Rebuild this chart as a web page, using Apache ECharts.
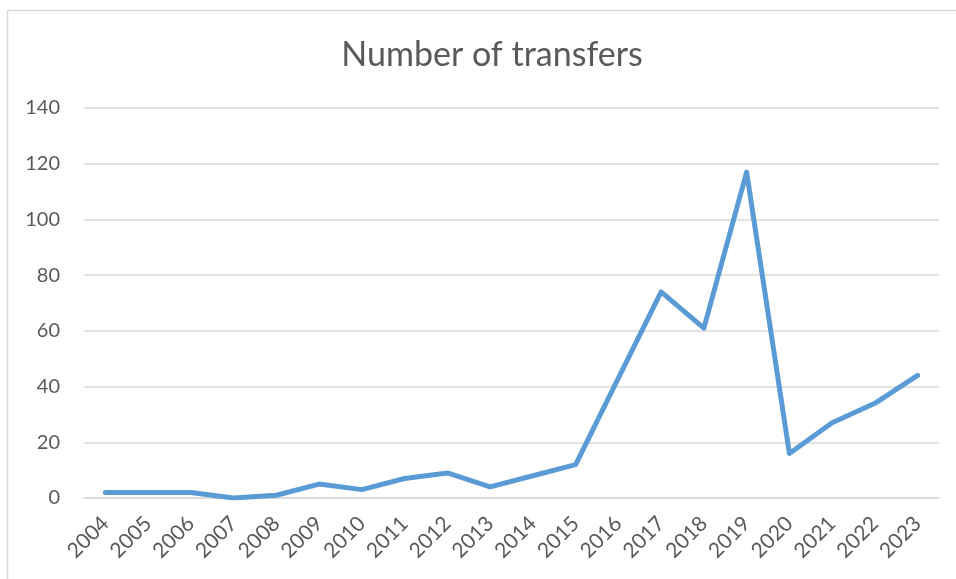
<!DOCTYPE html>
<html>
<head>
<meta charset="utf-8">
<script src="https://cdn.jsdelivr.net/npm/echarts@6/dist/echarts.min.js"></script>
<style>
  html, body { margin: 0; padding: 0; background: #ffffff; }
  #chart { width: 956px; height: 579px; }
</style>
</head>
<body>
<div id="chart"></div>
<script>
// Yearly counts of transfers
const years = ['2004','2005','2006','2007','2008','2009','2010','2011','2012','2013',
               '2014','2015','2016','2017','2018','2019','2020','2021','2022','2023'];
const transfers = [2, 2, 2, 0, 1, 5, 3, 7, 9, 4, 8, 12, 43, 74, 61, 117, 16, 27, 34, 44];
const yTicks = { min: 0, max: 140, step: 20 };

const chart = echarts.init(document.getElementById('chart'));
const labelColor = '#595959';
const gridColor = '#d9d9d9';

chart.setOption({
  backgroundColor: '#ffffff',
  animation: false,
  title: {
    text: 'Number of transfers',
    left: 487,
    textAlign: 'center',
    top: 33,
    textStyle: { fontFamily: 'Lato', fontSize: 34, fontWeight: 'normal', color: labelColor }
  },
  grid: { left: 84, right: 17, top: 108, bottom: 81 },
  xAxis: {
    type: 'category',
    data: years,
    boundaryGap: true,
    axisLine: { lineStyle: { color: gridColor, width: 1.5 } },
    axisTick: { show: false },
    axisLabel: {
      rotate: 45, interval: 0, margin: 22,
      fontFamily: 'Lato', fontSize: 21, color: labelColor
    }
  },
  yAxis: {
    type: 'value',
    min: yTicks.min, max: yTicks.max, interval: yTicks.step,
    axisLine: { show: false },
    axisTick: { show: false },
    splitLine: { lineStyle: { color: gridColor, width: 1.5 } },
    axisLabel: { margin: 24, fontFamily: 'Lato', fontSize: 20, color: labelColor }
  },
  series: [{
    type: 'line',
    data: transfers,
    showSymbol: false,
    lineStyle: { color: '#5b9bd5', width: 5, cap: 'round', join: 'round' }
  }],
  graphic: [
    { type: 'line', shape: { x1: 7.5, y1: 10.5, x2: 956, y2: 10.5 }, style: { stroke: gridColor, lineWidth: 1.5 } },
    { type: 'line', shape: { x1: 7.5, y1: 10.5, x2: 7.5, y2: 579 }, style: { stroke: gridColor, lineWidth: 1.5 } }
  ]
});
</script>
</body>
</html>
